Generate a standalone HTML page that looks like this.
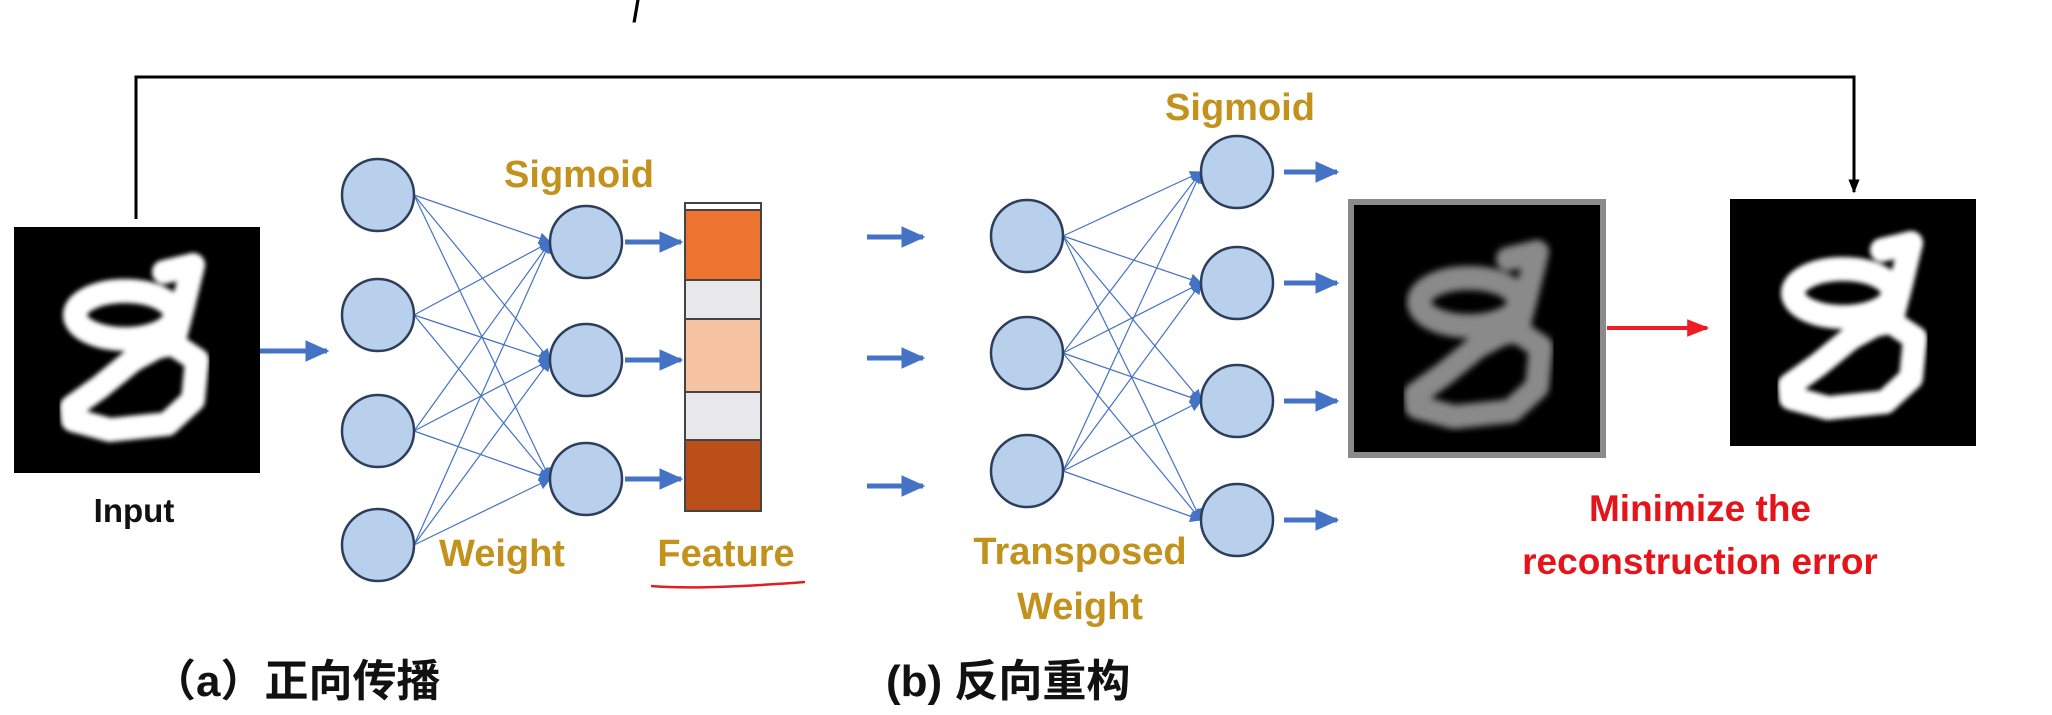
<!DOCTYPE html>
<html><head><meta charset="utf-8"><style>
html,body{margin:0;padding:0;background:#fff;}
svg{display:block;}
text{font-family:"Liberation Sans","Noto Sans CJK SC",sans-serif;font-weight:bold;}
</style></head><body>
<svg width="2052" height="715" viewBox="0 0 2052 715" xmlns="http://www.w3.org/2000/svg">
<defs>
<marker id="ab" viewBox="0 0 10 10" refX="9" refY="5" markerWidth="12" markerHeight="12" markerUnits="userSpaceOnUse" orient="auto"><path d="M0,0 L10,5 L0,10 Z" fill="#4472c4"/></marker>
<marker id="ar" viewBox="0 0 10 10" refX="9" refY="5" markerWidth="22" markerHeight="22" markerUnits="userSpaceOnUse" orient="auto"><path d="M0,1 L10,5 L0,9 Z" fill="#ee1c24"/></marker>
<marker id="ak" viewBox="0 0 10 10" refX="9" refY="5" markerWidth="14" markerHeight="14" markerUnits="userSpaceOnUse" orient="auto"><path d="M0,1 L10,5 L0,9 Z" fill="#000"/></marker>
<marker id="as" viewBox="0 0 10 10" refX="9" refY="5" markerWidth="24" markerHeight="24" markerUnits="userSpaceOnUse" orient="auto"><path d="M0,0.5 L10,5 L0,9.5 Z" fill="#4472c4"/></marker>
<filter id="bl"><feGaussianBlur stdDeviation="2.5"/></filter>
<filter id="bl2"><feGaussianBlur stdDeviation="3.5"/></filter>
<g id="digit" fill="none" stroke-linecap="round" stroke-linejoin="round" stroke-width="24">
<ellipse cx="111" cy="88" rx="50" ry="24"/>
<path d="M179,38 L168,83 L159,117 L183,133 L179,173 L153,197 L96,203 L59,193 L58,180 L86,160 L119,133 L143,120 L159,117"/>
<path d="M179,38 L150,45"/>
</g>
</defs>

<text x="632" y="14" font-style="italic" font-size="40" fill="#000" style="font-family:'Liberation Serif',serif;font-weight:normal">f</text>

<path d="M136,219 L136,77 L1854,77 L1854,192" fill="none" stroke="#000" stroke-width="3" marker-end="url(#ak)"/>

<rect x="14" y="227" width="246" height="246" fill="#000"/>
<g transform="translate(14,227)" filter="url(#bl)"><use href="#digit" stroke="#fff"/></g>
<text x="134" y="522" font-size="33" text-anchor="middle" fill="#111">Input</text>
<line x1="260" y1="351" x2="327" y2="351" stroke="#4472c4" stroke-width="5" marker-end="url(#as)"/>

<g stroke="#4472c4" stroke-width="1.2" marker-end="url(#ab)">
<line x1="414" y1="195" x2="550" y2="242"/><line x1="414" y1="195" x2="550" y2="360"/><line x1="414" y1="195" x2="550" y2="479"/>
<line x1="414" y1="315" x2="550" y2="242"/><line x1="414" y1="315" x2="550" y2="360"/><line x1="414" y1="315" x2="550" y2="479"/>
<line x1="414" y1="431" x2="550" y2="242"/><line x1="414" y1="431" x2="550" y2="360"/><line x1="414" y1="431" x2="550" y2="479"/>
<line x1="414" y1="545" x2="550" y2="242"/><line x1="414" y1="545" x2="550" y2="360"/><line x1="414" y1="545" x2="550" y2="479"/>
</g>
<g fill="#b8d0ec" stroke="#2c3e5c" stroke-width="2.5">
<circle cx="378" cy="195" r="36"/><circle cx="378" cy="315" r="36"/><circle cx="378" cy="431" r="36"/><circle cx="378" cy="545" r="36"/>
<circle cx="586" cy="242" r="36"/><circle cx="586" cy="360" r="36"/><circle cx="586" cy="479" r="36"/>
</g>
<text x="579" y="187" font-size="38" text-anchor="middle" fill="#c3921c">Sigmoid</text>
<text x="502" y="566" font-size="38" text-anchor="middle" fill="#c3921c">Weight</text>
<g stroke="#4472c4" stroke-width="5" marker-end="url(#as)">
<line x1="625" y1="242" x2="681" y2="242"/><line x1="625" y1="360" x2="681" y2="360"/><line x1="625" y1="479" x2="681" y2="479"/>
</g>

<g stroke="#444" stroke-width="2">
<rect x="685" y="203" width="76" height="7" fill="#fff"/>
<rect x="685" y="210" width="76" height="70" fill="#ed7430"/>
<rect x="685" y="280" width="76" height="39" fill="#e8e8ea"/>
<rect x="685" y="319" width="76" height="73" fill="#f6c4a3"/>
<rect x="685" y="392" width="76" height="48" fill="#e8e8ea"/>
<rect x="685" y="440" width="76" height="71" fill="#bb4f1a"/>
</g>
<text x="726" y="566" font-size="38" text-anchor="middle" fill="#c3921c">Feature</text>
<path d="M651,586 Q700,590 805,582" stroke="#e02020" stroke-width="2.5" fill="none"/>
<text x="152" y="696" font-size="44" fill="#111">（a）正向传播</text>

<g stroke="#4472c4" stroke-width="5" marker-end="url(#as)">
<line x1="867" y1="237" x2="923" y2="237"/><line x1="867" y1="358" x2="923" y2="358"/><line x1="867" y1="486" x2="923" y2="486"/>
</g>

<g stroke="#4472c4" stroke-width="1.2" marker-end="url(#ab)">
<line x1="1063" y1="236" x2="1201" y2="172"/><line x1="1063" y1="236" x2="1201" y2="283"/><line x1="1063" y1="236" x2="1201" y2="401"/><line x1="1063" y1="236" x2="1201" y2="520"/>
<line x1="1063" y1="353" x2="1201" y2="172"/><line x1="1063" y1="353" x2="1201" y2="283"/><line x1="1063" y1="353" x2="1201" y2="401"/><line x1="1063" y1="353" x2="1201" y2="520"/>
<line x1="1063" y1="471" x2="1201" y2="172"/><line x1="1063" y1="471" x2="1201" y2="283"/><line x1="1063" y1="471" x2="1201" y2="401"/><line x1="1063" y1="471" x2="1201" y2="520"/>
</g>
<g fill="#b8d0ec" stroke="#2c3e5c" stroke-width="2.5">
<circle cx="1027" cy="236" r="36"/><circle cx="1027" cy="353" r="36"/><circle cx="1027" cy="471" r="36"/>
<circle cx="1237" cy="172" r="36"/><circle cx="1237" cy="283" r="36"/><circle cx="1237" cy="401" r="36"/><circle cx="1237" cy="520" r="36"/>
</g>
<text x="1240" y="120" font-size="38" text-anchor="middle" fill="#c3921c">Sigmoid</text>
<text x="1080" y="564" font-size="38" text-anchor="middle" fill="#c3921c">Transposed</text>
<text x="1080" y="619" font-size="38" text-anchor="middle" fill="#c3921c">Weight</text>
<g stroke="#4472c4" stroke-width="5" marker-end="url(#as)">
<line x1="1284" y1="172" x2="1337" y2="172"/><line x1="1284" y1="283" x2="1337" y2="283"/><line x1="1284" y1="401" x2="1337" y2="401"/><line x1="1284" y1="520" x2="1337" y2="520"/>
</g>
<text x="886" y="696" font-size="44" fill="#111">(b) 反向重构</text>

<rect x="1351" y="202" width="252" height="253" fill="#000" stroke="#8a8a8a" stroke-width="6"/>
<g transform="translate(1358,214)" filter="url(#bl2)"><use href="#digit" stroke="#8a8a8a"/></g>
<line x1="1607" y1="328" x2="1707" y2="328" stroke="#ee1c24" stroke-width="4" marker-end="url(#ar)"/>

<rect x="1730" y="199" width="246" height="247" fill="#000"/>
<g transform="translate(1732,205)" filter="url(#bl)"><use href="#digit" stroke="#fff"/></g>

<text x="1700" y="521" font-size="37" text-anchor="middle" fill="#e5141b">Minimize the</text>
<text x="1700" y="574" font-size="37" text-anchor="middle" fill="#e5141b">reconstruction error</text>
</svg>
</body></html>
